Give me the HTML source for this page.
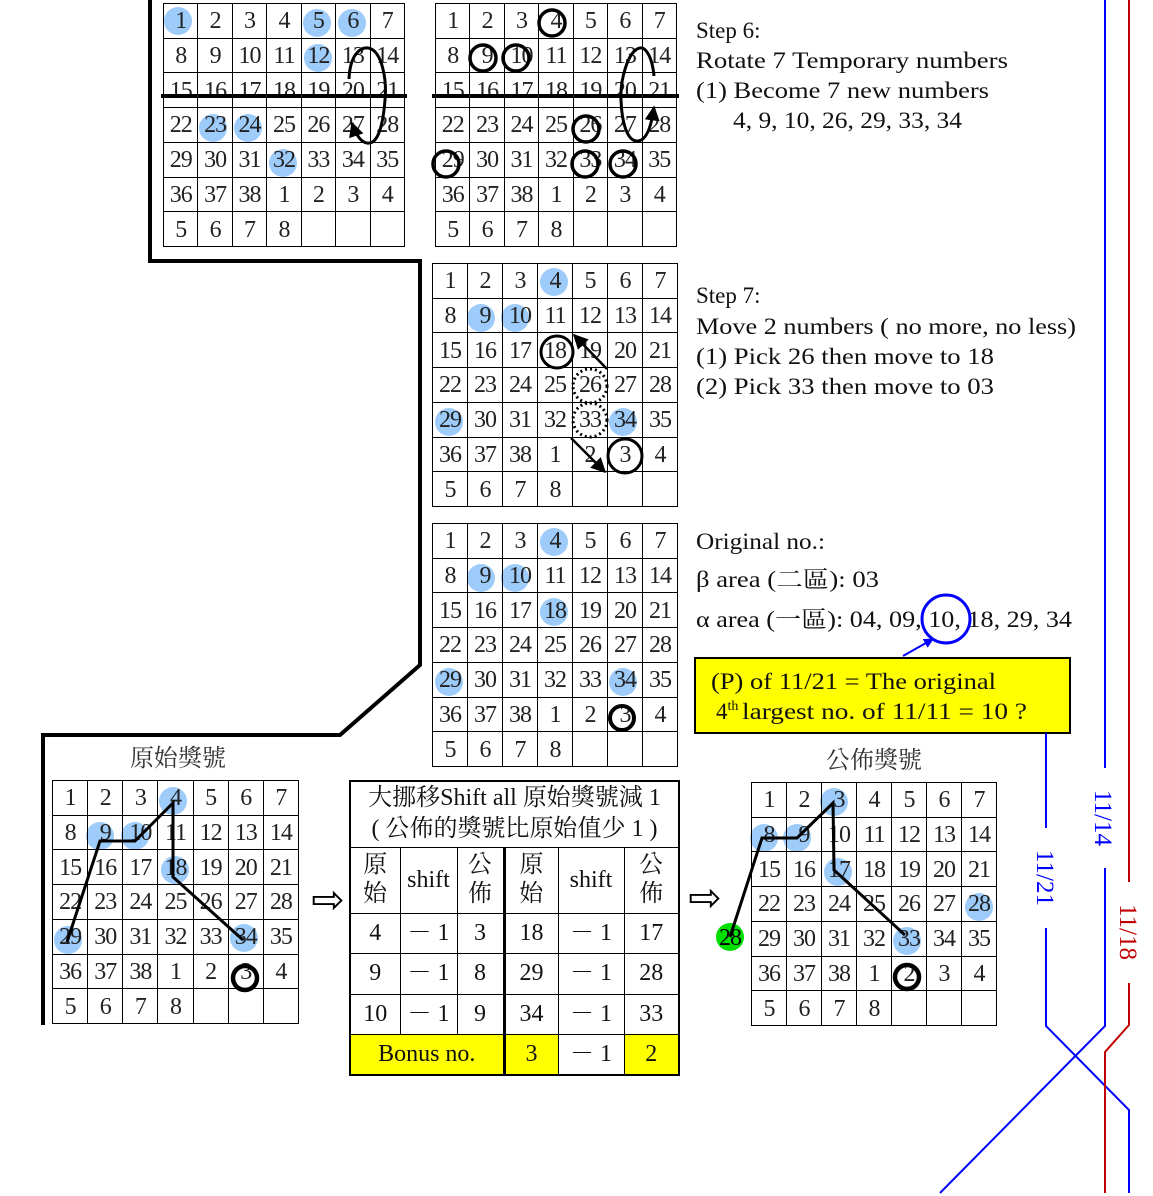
<!DOCTYPE html>
<html><head><meta charset="utf-8"><style>
body{margin:0;width:1153px;height:1196px;position:relative;background:#fff;overflow:hidden}
.g{position:absolute;border-collapse:collapse;table-layout:fixed;z-index:2}
.g td{border:1px solid #000;text-align:center;vertical-align:middle;padding:2px 0 0 0;font:24px "Liberation Serif",serif;color:#222;letter-spacing:-1px}
.bg{position:absolute;left:0;top:0;z-index:1}
.fg{position:absolute;left:0;top:0;z-index:3}
.t{position:absolute;border-collapse:collapse;table-layout:fixed;left:349px;top:780px;width:329px;border:2px solid #000;z-index:2}
.t td{border:1px solid #000;text-align:center;vertical-align:middle;padding:0;font:24px "Liberation Serif","Noto Serif CJK TC",serif;color:#111;line-height:1.2}
.t .m{border-left:3px solid #000}
.y{background:#ffff00}
</style></head><body>

<svg class="bg" width="1153" height="1196">
<g fill="#9dcbfa">
<circle cx="178" cy="21" r="14"/><circle cx="317" cy="23" r="14"/><circle cx="352" cy="23" r="14"/><circle cx="318" cy="58" r="14"/><circle cx="213" cy="128" r="14"/><circle cx="248" cy="128" r="14"/><circle cx="283" cy="163" r="14"/>
<circle cx="554" cy="282" r="14"/><circle cx="481" cy="318" r="14"/><circle cx="515" cy="318" r="14"/><circle cx="449" cy="422" r="14"/><circle cx="623" cy="422" r="14"/>
<circle cx="554" cy="542" r="14"/><circle cx="481" cy="578" r="14"/><circle cx="515" cy="578" r="14"/><circle cx="554" cy="612" r="14"/><circle cx="449" cy="682" r="14"/><circle cx="623" cy="682" r="14"/>
<circle cx="173" cy="801" r="14"/><circle cx="100" cy="836" r="14"/><circle cx="135" cy="836" r="14"/><circle cx="175" cy="870" r="14"/><circle cx="68" cy="940" r="14"/><circle cx="244" cy="938" r="14"/>
<circle cx="834" cy="802" r="14"/><circle cx="764" cy="838" r="14"/><circle cx="797" cy="838" r="14"/><circle cx="838" cy="872" r="14"/><circle cx="979" cy="907" r="14"/><circle cx="907" cy="941" r="14"/>
</g>
<circle cx="730" cy="937" r="14" fill="#00e000"/>
</svg>

<table class="g" style="left:163px;top:3px;width:242px;height:244px">
<tr><td>1</td><td>2</td><td>3</td><td>4</td><td>5</td><td>6</td><td>7</td></tr>
<tr><td>8</td><td>9</td><td>10</td><td>11</td><td>12</td><td>13</td><td>14</td></tr>
<tr><td>15</td><td>16</td><td>17</td><td>18</td><td>19</td><td>20</td><td>21</td></tr>
<tr><td>22</td><td>23</td><td>24</td><td>25</td><td>26</td><td>27</td><td>28</td></tr>
<tr><td>29</td><td>30</td><td>31</td><td>32</td><td>33</td><td>34</td><td>35</td></tr>
<tr><td>36</td><td>37</td><td>38</td><td>1</td><td>2</td><td>3</td><td>4</td></tr>
<tr><td>5</td><td>6</td><td>7</td><td>8</td><td></td><td></td><td></td></tr>
</table>
<table class="g" style="left:435px;top:3px;width:242px;height:244px">
<tr><td>1</td><td>2</td><td>3</td><td>4</td><td>5</td><td>6</td><td>7</td></tr>
<tr><td>8</td><td>9</td><td>10</td><td>11</td><td>12</td><td>13</td><td>14</td></tr>
<tr><td>15</td><td>16</td><td>17</td><td>18</td><td>19</td><td>20</td><td>21</td></tr>
<tr><td>22</td><td>23</td><td>24</td><td>25</td><td>26</td><td>27</td><td>28</td></tr>
<tr><td>29</td><td>30</td><td>31</td><td>32</td><td>33</td><td>34</td><td>35</td></tr>
<tr><td>36</td><td>37</td><td>38</td><td>1</td><td>2</td><td>3</td><td>4</td></tr>
<tr><td>5</td><td>6</td><td>7</td><td>8</td><td></td><td></td><td></td></tr>
</table>
<table class="g" style="left:432px;top:263px;width:246px;height:244px">
<tr><td>1</td><td>2</td><td>3</td><td>4</td><td>5</td><td>6</td><td>7</td></tr>
<tr><td>8</td><td>9</td><td>10</td><td>11</td><td>12</td><td>13</td><td>14</td></tr>
<tr><td>15</td><td>16</td><td>17</td><td>18</td><td>19</td><td>20</td><td>21</td></tr>
<tr><td>22</td><td>23</td><td>24</td><td>25</td><td>26</td><td>27</td><td>28</td></tr>
<tr><td>29</td><td>30</td><td>31</td><td>32</td><td>33</td><td>34</td><td>35</td></tr>
<tr><td>36</td><td>37</td><td>38</td><td>1</td><td>2</td><td>3</td><td>4</td></tr>
<tr><td>5</td><td>6</td><td>7</td><td>8</td><td></td><td></td><td></td></tr>
</table>
<table class="g" style="left:432px;top:523px;width:246px;height:244px">
<tr><td>1</td><td>2</td><td>3</td><td>4</td><td>5</td><td>6</td><td>7</td></tr>
<tr><td>8</td><td>9</td><td>10</td><td>11</td><td>12</td><td>13</td><td>14</td></tr>
<tr><td>15</td><td>16</td><td>17</td><td>18</td><td>19</td><td>20</td><td>21</td></tr>
<tr><td>22</td><td>23</td><td>24</td><td>25</td><td>26</td><td>27</td><td>28</td></tr>
<tr><td>29</td><td>30</td><td>31</td><td>32</td><td>33</td><td>34</td><td>35</td></tr>
<tr><td>36</td><td>37</td><td>38</td><td>1</td><td>2</td><td>3</td><td>4</td></tr>
<tr><td>5</td><td>6</td><td>7</td><td>8</td><td></td><td></td><td></td></tr>
</table>
<table class="g" style="left:52px;top:780px;width:247px;height:244px">
<tr><td>1</td><td>2</td><td>3</td><td>4</td><td>5</td><td>6</td><td>7</td></tr>
<tr><td>8</td><td>9</td><td>10</td><td>11</td><td>12</td><td>13</td><td>14</td></tr>
<tr><td>15</td><td>16</td><td>17</td><td>18</td><td>19</td><td>20</td><td>21</td></tr>
<tr><td>22</td><td>23</td><td>24</td><td>25</td><td>26</td><td>27</td><td>28</td></tr>
<tr><td>29</td><td>30</td><td>31</td><td>32</td><td>33</td><td>34</td><td>35</td></tr>
<tr><td>36</td><td>37</td><td>38</td><td>1</td><td>2</td><td>3</td><td>4</td></tr>
<tr><td>5</td><td>6</td><td>7</td><td>8</td><td></td><td></td><td></td></tr>
</table>
<table class="g" style="left:751px;top:782px;width:246px;height:244px">
<tr><td>1</td><td>2</td><td>3</td><td>4</td><td>5</td><td>6</td><td>7</td></tr>
<tr><td>8</td><td>9</td><td>10</td><td>11</td><td>12</td><td>13</td><td>14</td></tr>
<tr><td>15</td><td>16</td><td>17</td><td>18</td><td>19</td><td>20</td><td>21</td></tr>
<tr><td>22</td><td>23</td><td>24</td><td>25</td><td>26</td><td>27</td><td>28</td></tr>
<tr><td>29</td><td>30</td><td>31</td><td>32</td><td>33</td><td>34</td><td>35</td></tr>
<tr><td>36</td><td>37</td><td>38</td><td>1</td><td>2</td><td>3</td><td>4</td></tr>
<tr><td>5</td><td>6</td><td>7</td><td>8</td><td></td><td></td><td></td></tr>
</table>

<table class="t">
<colgroup><col style="width:50px"><col style="width:57px"><col style="width:47px"><col style="width:54px"><col style="width:66px"><col style="width:55px"></colgroup>
<tr style="height:66px"><td colspan="6" style="line-height:1.3">大挪移Shift all 原始獎號減 1<br>( 公佈的獎號比原始值少 1 )</td></tr>
<tr style="height:66px"><td>原<br>始</td><td>shift</td><td>公<br>佈</td><td class="m">原<br>始</td><td>shift</td><td>公<br>佈</td></tr>
<tr style="height:40px"><td>4</td><td>－ 1</td><td>3</td><td class="m">18</td><td>－ 1</td><td>17</td></tr>
<tr style="height:41px"><td>9</td><td>－ 1</td><td>8</td><td class="m">29</td><td>－ 1</td><td>28</td></tr>
<tr style="height:40px"><td>10</td><td>－ 1</td><td>9</td><td class="m">34</td><td>－ 1</td><td>33</td></tr>
<tr style="height:41px"><td colspan="3" class="y">Bonus no.</td><td class="m y">3</td><td>－ 1</td><td class="y">2</td></tr>
</table>

<svg class="fg" width="1153" height="1196" font-family="Liberation Serif, Noto Serif CJK TC, serif">
<defs>
<marker id="ah" viewBox="0 0 10 10" refX="9" refY="5" markerWidth="5" markerHeight="5" orient="auto"><path d="M0,0L10,5L0,10z" fill="#000"/></marker>
<marker id="ah2" viewBox="0 0 10 10" refX="9" refY="5" markerWidth="6" markerHeight="6" orient="auto"><path d="M0,0L10,5L0,10z" fill="#000"/></marker>
<marker id="bh" viewBox="0 0 10 10" refX="9" refY="5" markerWidth="5" markerHeight="5" orient="auto"><path d="M0,0L10,5L0,10z" fill="#0000ff"/></marker>
</defs>
<path d="M150,0V261H420V665L340,735H43V1025" fill="none" stroke="#000" stroke-width="4"/>
<line x1="161" y1="96" x2="407" y2="96" stroke="#000" stroke-width="4"/>
<line x1="432" y1="96" x2="679" y2="96" stroke="#000" stroke-width="4"/>
<path d="M349,79 C350,55 360,47 368,48 C382,50 387,80 385,100 C383,125 378,145 367,143 C360,142 355,132 352,123" fill="none" stroke="#000" stroke-width="3" marker-end="url(#ah)"/>
<path d="M654,76 C652,55 645,47 640,48 C628,50 620,80 621,100 C622,125 628,142 638,141 C648,140 652,122 654,107" fill="none" stroke="#000" stroke-width="3" marker-end="url(#ah)"/>
<g fill="none" stroke="#000" stroke-width="3.5">
<circle cx="552" cy="23" r="13"/><circle cx="483" cy="58" r="13"/><circle cx="516" cy="58" r="13"/><circle cx="586" cy="129" r="13"/><circle cx="446" cy="164" r="13"/><circle cx="585" cy="164" r="13"/><circle cx="623" cy="164" r="13"/>
</g>
<circle cx="557" cy="352" r="16" fill="none" stroke="#000" stroke-width="3"/>
<circle cx="625" cy="456" r="17" fill="none" stroke="#000" stroke-width="3"/>
<circle cx="590" cy="386" r="17" fill="none" stroke="#000" stroke-width="3" stroke-dasharray="2,3"/>
<circle cx="590" cy="420" r="17" fill="none" stroke="#000" stroke-width="3" stroke-dasharray="2,3"/>
<line x1="607" y1="369" x2="574" y2="335" stroke="#000" stroke-width="2.5" marker-end="url(#ah2)"/>
<line x1="571" y1="438" x2="605" y2="472" stroke="#000" stroke-width="2.5" marker-end="url(#ah2)"/>
<circle cx="622" cy="718" r="12" fill="none" stroke="#000" stroke-width="4"/>
<polyline points="67,942 100,841 135,841 173,803 173,877 243,940" fill="none" stroke="#000" stroke-width="3"/>
<circle cx="245" cy="978" r="12" fill="none" stroke="#000" stroke-width="4.5"/>
<text x="178" y="766" font-size="24" text-anchor="middle" fill="#333">原始獎號</text>
<polyline points="730,937 762,838 797,838 833,803 834,870 905,935" fill="none" stroke="#000" stroke-width="3"/>
<text x="730" y="945" font-size="24" text-anchor="middle" letter-spacing="-1">28</text>
<circle cx="907" cy="977" r="12" fill="none" stroke="#000" stroke-width="4.5"/>
<text x="874" y="768" font-size="24" text-anchor="middle" fill="#333">公佈獎號</text>
<text x="328" y="913" font-size="40" text-anchor="middle" font-family="DejaVu Sans, sans-serif">⇨</text>
<text x="705" y="911" font-size="40" text-anchor="middle" font-family="DejaVu Sans, sans-serif">⇨</text>
<g font-size="23" fill="#111">
<text x="696" y="38">Step 6:</text>
<text x="696" y="68" textLength="312" lengthAdjust="spacingAndGlyphs">Rotate 7 Temporary numbers</text>
<text x="696" y="98" textLength="293" lengthAdjust="spacingAndGlyphs">(1) Become 7 new numbers</text>
<text x="733" y="128" textLength="229" lengthAdjust="spacingAndGlyphs">4, 9, 10, 26, 29, 33, 34</text>
<text x="696" y="303">Step 7:</text>
<text x="696" y="334" textLength="380" lengthAdjust="spacingAndGlyphs">Move 2 numbers ( no more, no less)</text>
<text x="696" y="364" textLength="298" lengthAdjust="spacingAndGlyphs">(1)  Pick 26 then move to 18</text>
<text x="696" y="394" textLength="298" lengthAdjust="spacingAndGlyphs">(2)  Pick 33 then move to 03</text>
<text x="696" y="549" textLength="129" lengthAdjust="spacingAndGlyphs">Original no.:</text>
<text x="696" y="587" textLength="183" lengthAdjust="spacingAndGlyphs">β area (二區): 03</text>
<text x="696" y="627" textLength="376" lengthAdjust="spacingAndGlyphs">α area (一區): 04, 09, 10, 18, 29, 34</text>
</g>
<circle cx="946" cy="619" r="24" fill="none" stroke="#0000ff" stroke-width="3"/>
<line x1="903" y1="656" x2="933" y2="639" stroke="#0000ff" stroke-width="2" marker-end="url(#bh)"/>
<rect x="695" y="658" width="375" height="75" fill="#ffff00" stroke="#000" stroke-width="2"/>
<g font-size="23" fill="#111">
<text x="711" y="689" textLength="285" lengthAdjust="spacingAndGlyphs">(P) of 11/21 = The original</text>
<text x="716" y="719">4<tspan font-size="14" dy="-9">th</tspan></text>
<text x="742" y="719" textLength="285" lengthAdjust="spacingAndGlyphs">largest no. of 11/11 = 10 ?</text>
</g>
<g fill="none" stroke-width="2">
<path d="M1046,733V828M1046,928V1026L1129,1110V1193" stroke="#0000ff"/>
<path d="M1105,0V768M1105,868V1026L940,1193" stroke="#0000ff"/>
<path d="M1129,0V882M1129,983V1025L1105,1052V1193" stroke="#c00000"/>
</g>
<g font-size="25">
<text transform="translate(1095,818) rotate(90)" text-anchor="middle" fill="#0000ff">11/14</text>
<text transform="translate(1037,878) rotate(90)" text-anchor="middle" fill="#0000ff">11/21</text>
<text transform="translate(1120,932) rotate(90)" text-anchor="middle" fill="#c00000">11/18</text>
</g>
</svg>
</body></html>
